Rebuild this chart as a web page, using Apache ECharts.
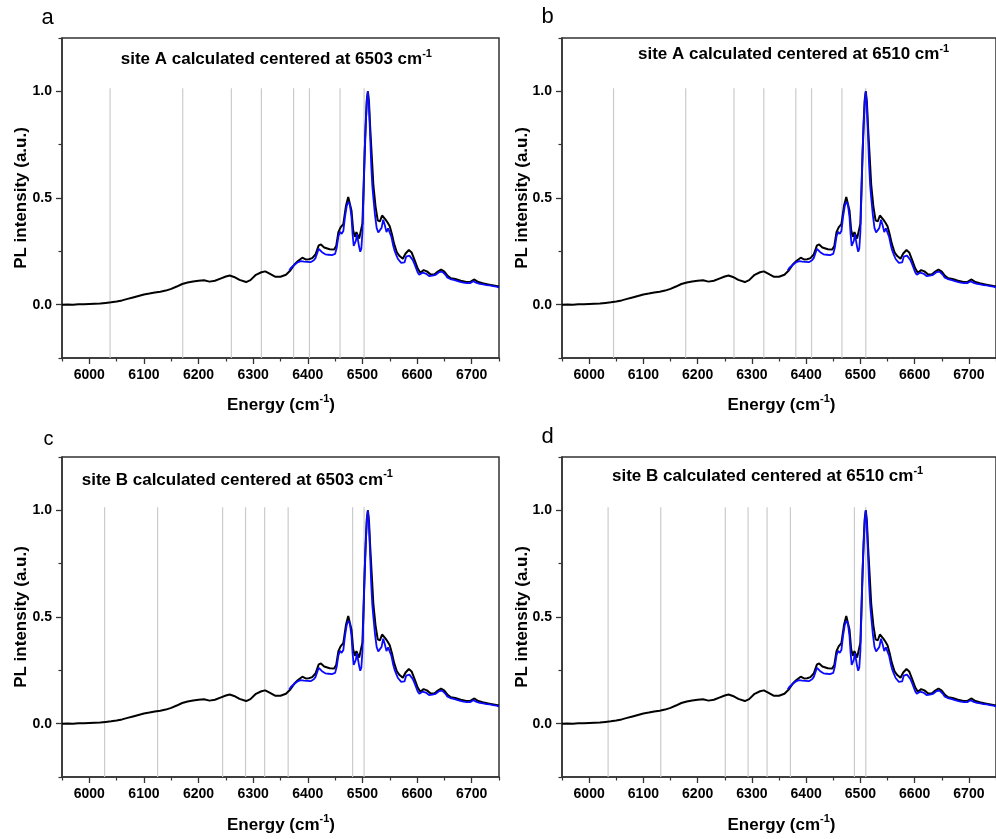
<!DOCTYPE html>
<html>
<head>
<meta charset="utf-8">
<script src="https://cdn.jsdelivr.net/npm/echarts@6/dist/echarts.min.js"></script>
<style>
  html, body { margin: 0; padding: 0; background: #fff; }
  #chart { width: 996px; height: 839px; }
</style>
</head>
<body>
<div id="chart"></div>
<script>
// Measured PL spectrum (black)
const energyBlack = [
  5950, 5960, 5970, 5980, 5990, 6000, 6010, 6020, 6030, 6040, 6050, 6060, 6070, 6080, 6090,
  6100, 6110, 6120, 6130, 6140, 6150, 6160, 6170, 6180, 6190, 6200, 6210, 6220, 6230, 6240,
  6250, 6257, 6265, 6275, 6287, 6295, 6305, 6315, 6322, 6330, 6340, 6350, 6360, 6368, 6376,
  6382, 6390, 6396, 6402, 6408, 6414, 6420, 6424, 6430, 6440, 6448, 6452, 6456, 6460, 6465,
  6470, 6474, 6477, 6480, 6483, 6486, 6489, 6491, 6494, 6497, 6500, 6503, 6506, 6508, 6510,
  6512, 6514, 6517, 6520, 6524, 6528, 6532, 6536, 6539, 6542, 6546, 6550, 6554, 6558, 6563,
  6568, 6574, 6579, 6585, 6590, 6596, 6601, 6606, 6612, 6618, 6625, 6632, 6638, 6644, 6650,
  6656, 6662, 6670, 6680, 6690, 6698, 6705, 6712, 6720, 6730, 6740, 6750
];
const intensityBlack = [
  0.000, 0.001, 0.000, 0.002, 0.002, 0.003, 0.004, 0.005, 0.008, 0.011, 0.015, 0.020, 0.027, 0.034, 0.041,
  0.048, 0.052, 0.057, 0.061, 0.066, 0.074, 0.085, 0.097, 0.104, 0.109, 0.112, 0.114, 0.108, 0.112, 0.122,
  0.132, 0.137, 0.130, 0.116, 0.106, 0.115, 0.140, 0.152, 0.156, 0.145, 0.131, 0.131, 0.140, 0.160, 0.190,
  0.205, 0.220, 0.212, 0.213, 0.218, 0.235, 0.278, 0.282, 0.268, 0.260, 0.258, 0.275, 0.340, 0.362, 0.378,
  0.465, 0.505, 0.498, 0.440, 0.350, 0.318, 0.340, 0.338, 0.310, 0.310, 0.380, 0.620, 0.850, 0.960, 1.000,
  0.950, 0.840, 0.700, 0.560, 0.460, 0.395, 0.390, 0.418, 0.422, 0.400, 0.385, 0.368, 0.330, 0.285, 0.245,
  0.228, 0.215, 0.240, 0.256, 0.245, 0.205, 0.170, 0.150, 0.162, 0.156, 0.141, 0.142, 0.155, 0.165, 0.155,
  0.135, 0.124, 0.120, 0.112, 0.106, 0.108, 0.118, 0.106, 0.100, 0.095, 0.090, 0.085
];

// Second spectrum (blue), covering the high-energy part
const energyBlue = [
  6366, 6369, 6372, 6375, 6378, 6381, 6384, 6387, 6390, 6393, 6396, 6399, 6402, 6405, 6408,
  6411, 6414, 6417, 6420, 6423, 6426, 6429, 6432, 6435, 6438, 6441, 6444, 6447, 6450, 6453,
  6456, 6459, 6462, 6465, 6468, 6471, 6474, 6477, 6480, 6482, 6484, 6486, 6488, 6490, 6492,
  6494, 6496, 6498, 6500, 6502, 6504, 6506, 6508, 6510, 6512, 6514, 6516, 6518, 6520, 6523,
  6526, 6529, 6532, 6535, 6538, 6541, 6544, 6547, 6550, 6553, 6556, 6559, 6562, 6565, 6568,
  6571, 6574, 6577, 6580, 6583, 6586, 6589, 6592, 6595, 6598, 6601, 6604, 6607, 6610, 6613,
  6616, 6619, 6622, 6625, 6628, 6631, 6634, 6637, 6640, 6643, 6646, 6649, 6652, 6655, 6658,
  6661, 6664, 6667, 6670, 6673, 6676, 6679, 6682, 6685, 6688, 6691, 6694, 6697, 6700, 6703,
  6706, 6709, 6712, 6715, 6718, 6721, 6724, 6727, 6730, 6733, 6736, 6739, 6742, 6745, 6748, 6750
];
const intensityBlue = [
  0.160, 0.172, 0.178, 0.186, 0.192, 0.198, 0.196, 0.204, 0.208, 0.202, 0.198, 0.201, 0.196, 0.199, 0.203,
  0.208, 0.218, 0.240, 0.262, 0.258, 0.246, 0.240, 0.236, 0.241, 0.234, 0.238, 0.232, 0.236, 0.238, 0.268,
  0.320, 0.342, 0.332, 0.345, 0.410, 0.460, 0.482, 0.470, 0.410, 0.330, 0.275, 0.268, 0.300, 0.330, 0.322,
  0.270, 0.248, 0.262, 0.340, 0.520, 0.720, 0.840, 0.950, 1.000, 0.930, 0.800, 0.660, 0.560, 0.500, 0.420,
  0.360, 0.338, 0.330, 0.360, 0.398, 0.372, 0.340, 0.358, 0.352, 0.318, 0.280, 0.252, 0.232, 0.214, 0.205,
  0.196, 0.190, 0.198, 0.225, 0.232, 0.230, 0.228, 0.210, 0.192, 0.172, 0.152, 0.140, 0.143, 0.150, 0.153,
  0.146, 0.140, 0.134, 0.132, 0.136, 0.133, 0.140, 0.147, 0.152, 0.158, 0.155, 0.150, 0.140, 0.128, 0.122,
  0.120, 0.118, 0.116, 0.117, 0.112, 0.111, 0.107, 0.108, 0.103, 0.104, 0.101, 0.099, 0.101, 0.104, 0.110,
  0.109, 0.102, 0.098, 0.097, 0.094, 0.095, 0.091, 0.092, 0.089, 0.090, 0.086, 0.087, 0.084, 0.085, 0.081, 0.080
];

// Axis ticks
const xTickLabels = [6000, 6100, 6200, 6300, 6400, 6500, 6600, 6700];
const xMinorTicks = [5950, 6050, 6150, 6250, 6350, 6450, 6550, 6650, 6750];
const yTickLabels = [0, 0.5, 1.0];
const yMinorTicks = [-0.25, 0.25, 0.75, 1.25];

// Calculated line positions (cm-1) for each panel
const linesSiteA6503 = [6038, 6171, 6260, 6315, 6374, 6403, 6459, 6503];
const linesSiteA6510 = [6045, 6178, 6267, 6322, 6381, 6410, 6466, 6510];
const linesSiteB6503 = [6028, 6125, 6244, 6286, 6321, 6364, 6482, 6503];
const linesSiteB6510 = [6035, 6132, 6251, 6293, 6328, 6371, 6489, 6510];

const panelLetters = ['a', 'b', 'c', 'd'];
const panelTitles = [
  'site A calculated centered at 6503 cm',
  'site A calculated centered at 6510 cm',
  'site B calculated centered at 6503 cm',
  'site B calculated centered at 6510 cm'
];
const panelLines = [linesSiteA6503, linesSiteA6510, linesSiteB6503, linesSiteB6510];

// Layout
const FONT = '"Liberation Sans", Arial, Helvetica, sans-serif';
const panels = [
  { left: 62,  top: 38,  letter: [47.5, 18],  letterSize: 22, title: [120.7, 59.7], xName: [281, 405.4], yName: [21, 198] },
  { left: 562, top: 38,  letter: [547.5, 17], letterSize: 22, title: [638, 54.7],  xName: [781.5, 405.4], yName: [522.5, 198] },
  { left: 62,  top: 457, letter: [48.5, 439], letterSize: 20, title: [81.7, 480.4], xName: [281, 825.4], yName: [21, 617] },
  { left: 562, top: 457, letter: [547.5, 437], letterSize: 22, title: [612, 476.7], xName: [781.5, 825.4], yName: [522.5, 617] }
];
const GRID_W = 437, GRID_H = 320;
const X_MIN = 5950, X_MAX = 6750, Y_MIN = -0.25, Y_MAX = 1.25;
const LINE_TOP = 1.015;

const measureCtx = document.createElement('canvas').getContext('2d');
function textWidth(str, size) {
  measureCtx.font = 'bold ' + size + 'px ' + FONT;
  return measureCtx.measureText(str).width;
}

const zip = (xs, ys) => xs.map((x, i) => [x, ys[i]]);
const blackData = zip(energyBlack, intensityBlack);
const blueData = zip(energyBlue, intensityBlue);

const grid = [], xAxis = [], yAxis = [], series = [], graphic = [];
const axisColor = '#333';
const labelStyle = { fontSize: 14, fontWeight: 'bold', color: '#000', fontFamily: FONT };

panels.forEach((p, i) => {
  grid.push({
    left: p.left, top: p.top, width: GRID_W, height: GRID_H,
    show: true, borderColor: axisColor, borderWidth: 1.5, backgroundColor: 'transparent'
  });
  // main x axis: labels and major ticks
  xAxis.push({
    gridIndex: i, type: 'value', min: X_MIN, max: X_MAX, position: 'bottom',
    axisLine: { show: true, onZero: false, lineStyle: { color: axisColor, width: 1.5 } },
    axisTick: { show: true, customValues: xTickLabels, length: 6, lineStyle: { color: axisColor, width: 1.3 } },
    axisLabel: Object.assign({ customValues: xTickLabels, margin: 10, formatter: v => String(v) }, labelStyle),
    splitLine: { show: false }
  });
  // minor x ticks
  xAxis.push({
    gridIndex: i, type: 'value', min: X_MIN, max: X_MAX, position: 'bottom',
    axisLine: { show: false, onZero: false },
    axisTick: { show: true, customValues: xMinorTicks, length: 3.5, lineStyle: { color: axisColor, width: 1.2 } },
    axisLabel: { show: false },
    splitLine: { show: false }
  });
  yAxis.push({
    gridIndex: i, type: 'value', min: Y_MIN, max: Y_MAX, position: 'left',
    axisLine: { show: true, onZero: false, lineStyle: { color: axisColor, width: 1.5 } },
    axisTick: { show: true, customValues: yTickLabels, length: 6, lineStyle: { color: axisColor, width: 1.3 } },
    axisLabel: Object.assign({ customValues: yTickLabels, margin: 10, formatter: v => v.toFixed(1) }, labelStyle),
    splitLine: { show: false }
  });
  yAxis.push({
    gridIndex: i, type: 'value', min: Y_MIN, max: Y_MAX, position: 'left',
    axisLine: { show: false, onZero: false },
    axisTick: { show: true, customValues: yMinorTicks, length: 3.5, lineStyle: { color: axisColor, width: 1.2 } },
    axisLabel: { show: false },
    splitLine: { show: false }
  });

  // calculated line positions as vertical gray segments
  const segs = [];
  panelLines[i].forEach(v => { segs.push([v, Y_MIN], [v, LINE_TOP], [v, '-']); });
  series.push({
    type: 'line', xAxisIndex: 2 * i, yAxisIndex: 2 * i, data: segs,
    showSymbol: false, silent: true, connectNulls: false,
    lineStyle: { color: '#cbcbcb', width: 1.2 }, z: 1
  });
  series.push({
    type: 'line', xAxisIndex: 2 * i, yAxisIndex: 2 * i, data: blackData,
    showSymbol: false, silent: true,
    lineStyle: { color: '#000', width: 2 }, z: 2
  });
  series.push({
    type: 'line', xAxisIndex: 2 * i, yAxisIndex: 2 * i, data: blueData,
    showSymbol: false, silent: true,
    lineStyle: { color: '#0a0aff', width: 1.8 }, z: 3
  });

  // panel letter
  graphic.push({
    type: 'text', x: p.letter[0], y: p.letter[1],
    style: { text: panelLetters[i], font: p.letterSize + 'px ' + FONT, fill: '#000', align: 'center', verticalAlign: 'middle' }
  });
  // panel title with superscript
  const tw = textWidth(panelTitles[i], 17);
  graphic.push({
    type: 'text', x: p.title[0], y: p.title[1],
    style: { text: panelTitles[i], font: 'bold 17px ' + FONT, fill: '#000', align: 'left', verticalAlign: 'middle' }
  });
  graphic.push({
    type: 'text', x: p.title[0] + tw, y: p.title[1] - 6,
    style: { text: '-1', font: 'bold 11px ' + FONT, fill: '#000', align: 'left', verticalAlign: 'middle' }
  });
  // x axis name: Energy (cm^-1)
  const n1 = 'Energy (cm', n2 = '-1', n3 = ')';
  const w1 = textWidth(n1, 17), w2 = textWidth(n2, 11), w3 = textWidth(n3, 17);
  const x0 = p.xName[0] - (w1 + w2 + w3) / 2;
  graphic.push({
    type: 'text', x: x0, y: p.xName[1],
    style: { text: n1, font: 'bold 17px ' + FONT, fill: '#000', align: 'left', verticalAlign: 'middle' }
  });
  graphic.push({
    type: 'text', x: x0 + w1, y: p.xName[1] - 6,
    style: { text: n2, font: 'bold 11px ' + FONT, fill: '#000', align: 'left', verticalAlign: 'middle' }
  });
  graphic.push({
    type: 'text', x: x0 + w1 + w2, y: p.xName[1],
    style: { text: n3, font: 'bold 17px ' + FONT, fill: '#000', align: 'left', verticalAlign: 'middle' }
  });
  // y axis name
  graphic.push({
    type: 'text', x: p.yName[0], y: p.yName[1], rotation: Math.PI / 2,
    style: { text: 'PL intensity (a.u.)', font: 'bold 17px ' + FONT, fill: '#000', align: 'center', verticalAlign: 'middle' }
  });
});

const chart = echarts.init(document.getElementById('chart'), null, { renderer: 'canvas' });
chart.setOption({
  animation: false,
  backgroundColor: '#fff',
  grid, xAxis, yAxis, series, graphic
});
</script>
</body>
</html>
